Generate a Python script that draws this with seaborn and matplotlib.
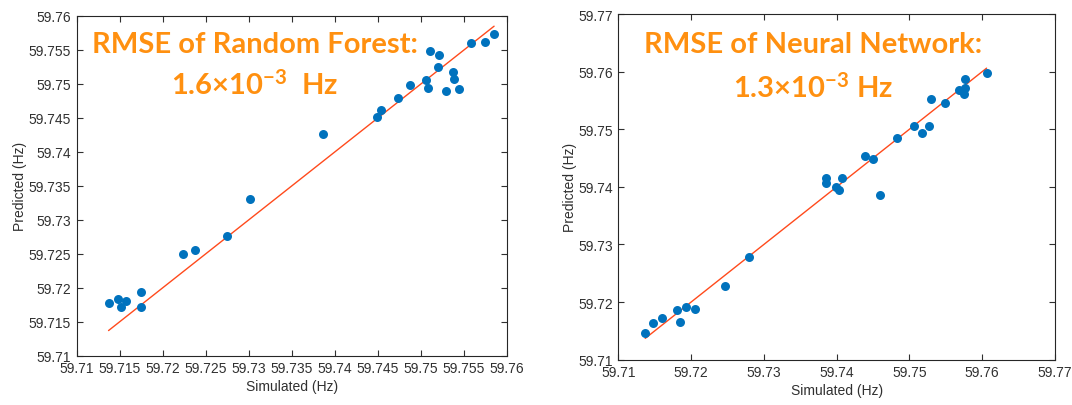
import numpy as np
import pandas as pd
import matplotlib
matplotlib.use("Agg")
import matplotlib.pyplot as plt
import seaborn as sns

# Random Forest: simulated vs predicted (Hz)
rf_sim = [59.7137, 59.7148, 59.7152, 59.7157, 59.7175, 59.7175, 59.7224, 59.7238,
          59.7275, 59.7301, 59.7386, 59.7449, 59.7454, 59.7473, 59.7487, 59.7506,
          59.7508, 59.7510, 59.7521, 59.7520, 59.7529, 59.7537, 59.7538, 59.7544,
          59.7558, 59.7574, 59.7585]
rf_pred = [59.7177, 59.7184, 59.7172, 59.7181, 59.7194, 59.7171, 59.7250, 59.7255,
           59.7276, 59.7330, 59.7426, 59.7452, 59.7461, 59.7480, 59.7498, 59.7506,
           59.7494, 59.7549, 59.7542, 59.7525, 59.7489, 59.7517, 59.7507, 59.7492,
           59.7560, 59.7561, 59.7574]

# Neural Network: simulated vs predicted (Hz)
nn_sim = [59.7606, 59.7576, 59.7576, 59.7568, 59.7575, 59.7529, 59.7549, 59.7506,
          59.7527, 59.7517, 59.7483, 59.7439, 59.7450, 59.7386, 59.7385, 59.7407,
          59.7399, 59.7403, 59.7460, 59.7279, 59.7247, 59.7205, 59.7193, 59.7180,
          59.7185, 59.7160, 59.7147, 59.7137]
nn_pred = [59.7598, 59.7587, 59.7571, 59.7568, 59.7561, 59.7552, 59.7546, 59.7506,
           59.7506, 59.7494, 59.7485, 59.7454, 59.7449, 59.7415, 59.7407, 59.7415,
           59.7399, 59.7395, 59.7386, 59.7278, 59.7228, 59.7188, 59.7192, 59.7186,
           59.7165, 59.7173, 59.7163, 59.7147]

rf_xticks = [59.71, 59.715, 59.72, 59.725, 59.73, 59.735, 59.74, 59.745, 59.75, 59.755, 59.76]
rf_xlabels = ["59.71", "59.715", "59.72", "59.725", "59.73", "59.735", "59.74", "59.745", "59.75", "59.755", "59.76"]
nn_ticks = [59.71, 59.72, 59.73, 59.74, 59.75, 59.76, 59.77]
nn_labels = ["59.71", "59.72", "59.73", "59.74", "59.75", "59.76", "59.77"]

titles = [("RMSE of Random Forest:", r"1.6×10$^{-3}$  Hz"),
          ("RMSE of Neural Network:", r"1.3×10$^{-3}$ Hz")]

sns.set_theme(style="white")
plt.rcParams["font.family"] = ["Liberation Sans", "DejaVu Sans"]
plt.rcParams["xtick.direction"] = "in"
plt.rcParams["ytick.direction"] = "in"
plt.rcParams["mathtext.fontset"] = "custom"
plt.rcParams["mathtext.rm"] = "Lato:bold"
plt.rcParams["mathtext.it"] = "Lato:bold"
plt.rcParams["mathtext.bf"] = "Lato:bold"

BLUE = "#0072BD"
LINE = "#FF4A1C"
ORANGE = "#FF9010"
TXT = "#303030"

fig = plt.figure(figsize=(10.72, 4.06), dpi=100)
ax1 = fig.add_axes([76.7 / 1072, (406 - 356.7) / 406, 430.3 / 1072, 339.7 / 406])
ax2 = fig.add_axes([618.3 / 1072, (406 - 360.7) / 406, 436.7 / 1072, 345.7 / 406])

def draw(ax, sim, pred, ticks, labels, yticks, ylabels, lim, title, tx, ty):
    df = pd.DataFrame({"sim": sim, "pred": pred})
    lo, hi = min(sim), max(sim)
    ax.plot([lo, hi], [lo, hi], color=LINE, lw=1.0, zorder=2)
    sns.scatterplot(data=df, x="sim", y="pred", ax=ax, color=BLUE, s=42,
                    edgecolor=BLUE, linewidth=0, marker="o", zorder=3)
    ax.set_xlim(lim)
    ax.set_ylim(lim)
    ax.set_xticks(ticks)
    ax.set_xticklabels(labels)
    ax.set_yticks(yticks)
    ax.set_yticklabels(ylabels)
    ax.set_xlabel("Simulated (Hz)", fontsize=10, color=TXT, labelpad=3)
    ax.set_ylabel("Predicted (Hz)", fontsize=10, color=TXT, labelpad=1)
    ax.tick_params(axis="both", which="both", labelsize=10, colors=TXT,
                   direction="in", length=4, width=0.8, top=True, right=True,
                   bottom=True, left=True, pad=4)
    for sp in ax.spines.values():
        sp.set_color("#262626")
        sp.set_linewidth(0.8)
        sp.set_visible(True)
    ax.grid(False)
    ax.text(tx, ty[0], title[0], transform=ax.transAxes, ha="center", va="center",
            fontsize=21, fontweight="bold", color=ORANGE, family=["Lato", "DejaVu Sans"])
    ax.text(tx, ty[1], title[1], transform=ax.transAxes, ha="center", va="center",
            fontsize=21, fontweight="bold", color=ORANGE, family=["Lato", "DejaVu Sans"])

draw(ax1, rf_sim, rf_pred, rf_xticks, rf_xlabels, rf_xticks, rf_xlabels,
     (59.71, 59.76), titles[0], (255 - 76.7) / 430.3,
     ((356.7 - 45) / 339.7, (356.7 - 85) / 339.7))
draw(ax2, nn_sim, nn_pred, nn_ticks, nn_labels, nn_ticks, nn_labels,
     (59.71, 59.77), titles[1], (813 - 618.3) / 436.7,
     ((360.7 - 45) / 345.7, (360.7 - 88) / 345.7))

fig.savefig("out.png", dpi=100, facecolor="white")
